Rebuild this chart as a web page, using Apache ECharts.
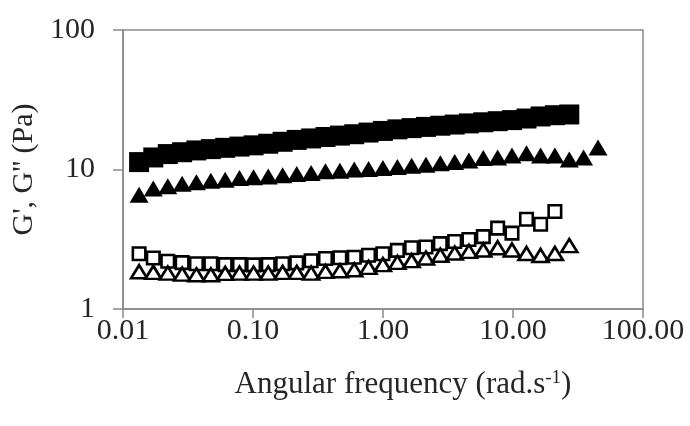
<!DOCTYPE html>
<html><head><meta charset="utf-8">
<script src="https://cdn.jsdelivr.net/npm/echarts@6/dist/echarts.min.js"></script>
<style>html,body{margin:0;padding:0;background:#fff}#c{width:690px;height:426px}</style>
</head><body><div id="c"></div>
<script>
// angular frequency (rad/s)
const freq = [0.0133, 0.0171, 0.0221, 0.0285, 0.0367, 0.0474, 0.0611, 0.0787, 0.101, 0.131, 0.169, 0.217, 0.280, 0.361, 0.466, 0.601, 0.774, 0.998, 1.29, 1.66, 2.14, 2.76, 3.56, 4.58, 5.91, 7.62, 9.82, 12.7, 16.3, 21.0, 27.1, 34.9, 45.1];
// filled squares
const gFilledSquare = [11.3, 12.2, 12.9, 13.3, 13.7, 14.0, 14.3, 14.6, 14.9, 15.3, 15.8, 16.3, 16.7, 17.1, 17.5, 17.9, 18.4, 18.9, 19.4, 19.8, 20.2, 20.6, 21.0, 21.4, 21.8, 22.2, 22.6, 23.2, 24.0, 24.5, 24.8];
// filled triangles
const gFilledTriangle = [6.6, 7.3, 7.6, 7.9, 8.1, 8.3, 8.45, 8.7, 8.8, 8.9, 9.1, 9.3, 9.44, 9.7, 9.8, 10.0, 10.1, 10.25, 10.4, 10.65, 10.8, 11.1, 11.3, 11.6, 12.1, 12.2, 12.6, 13.1, 12.6, 12.6, 11.8, 12.2, 14.4];
// open squares
const gOpenSquare = [2.49, 2.32, 2.20, 2.15, 2.11, 2.11, 2.08, 2.08, 2.07, 2.08, 2.11, 2.14, 2.22, 2.30, 2.33, 2.35, 2.43, 2.49, 2.63, 2.75, 2.78, 2.94, 3.05, 3.15, 3.30, 3.80, 3.50, 4.40, 4.05, 5.00];
// open triangles
const gOpenTriangle = [1.85, 1.83, 1.81, 1.78, 1.76, 1.76, 1.80, 1.81, 1.81, 1.81, 1.83, 1.83, 1.81, 1.86, 1.88, 1.91, 1.99, 2.08, 2.16, 2.22, 2.32, 2.43, 2.52, 2.59, 2.65, 2.75, 2.65, 2.50, 2.42, 2.50, 2.85];

const yTicks = ['1', '10', '100'];
const xTitle = 'Angular frequency (rad.s{sup|-1})';
const yTitle = "G', G'' (Pa)";

function pts(ys) { return ys.map((y, i) => [freq[i], y]); }

const font = "'Liberation Serif', 'Times New Roman', serif";
const axisGray = '#8a8a8a';
const txt = '#262626';
const chart = echarts.init(document.getElementById('c'), null, { renderer: 'canvas' });
chart.setOption({
  animation: false,
  backgroundColor: '#fff',
  grid: { left: 123, right: 47, top: 30, bottom: 117, show: true, borderColor: axisGray, borderWidth: 1.5, outerBoundsMode: 'none', containLabel: false },
  xAxis: {
    type: 'log', logBase: 10, min: 0.01, max: 100,
    axisLine: { show: true, lineStyle: { color: axisGray, width: 1.5 } },
    axisTick: { show: true, inside: false, length: 9, lineStyle: { color: axisGray, width: 1.5 } },
    splitLine: { show: false }, minorTick: { show: false },
    axisLabel: { formatter: v => Number(v).toFixed(2), fontFamily: font, fontSize: 30, color: txt, margin: 7, showMinLabel: true, showMaxLabel: true },
    name: xTitle, nameLocation: 'middle', nameGap: 60,
    nameTextStyle: { fontFamily: font, fontSize: 31, color: txt, padding: [0, 0, 0, 40],
      rich: { sup: { fontFamily: font, fontSize: 19, color: txt, verticalAlign: 'top', padding: [0, 0, 12, 0] } } }
  },
  yAxis: {
    type: 'log', logBase: 10, min: 1, max: 100,
    axisLine: { show: true, lineStyle: { color: axisGray, width: 1.5 } },
    axisTick: { show: true, inside: false, length: 10, lineStyle: { color: axisGray, width: 1.5 } },
    splitLine: { show: false }, minorTick: { show: false },
    axisLabel: { formatter: v => { const r = Math.round(Math.log10(v)); return yTicks[r] !== undefined ? yTicks[r] : ''; }, fontFamily: font, fontSize: 30, color: txt, margin: 28, showMinLabel: true, showMaxLabel: true },
    name: yTitle, nameLocation: 'middle', nameGap: 84, nameRotate: 90,
    nameTextStyle: { fontFamily: font, fontSize: 30, color: txt }
  },
  series: [
    { type: 'scatter', data: pts(gFilledSquare), symbol: 'rect', symbolSize: 20, itemStyle: { color: '#000', opacity: 1 } },
    { type: 'scatter', data: pts(gFilledTriangle), symbol: 'triangle', symbolSize: [19, 16], itemStyle: { color: '#000', opacity: 1 } },
    { type: 'scatter', data: pts(gOpenSquare), symbol: 'rect', symbolSize: 12.5, itemStyle: { color: '#fff', borderColor: '#000', borderWidth: 2.6, opacity: 1 } },
    { type: 'scatter', data: pts(gOpenTriangle), symbol: 'triangle', symbolSize: [16, 13], itemStyle: { color: '#fff', borderColor: '#000', borderWidth: 2.6, opacity: 1 } }
  ]
});
</script>
</body></html>
